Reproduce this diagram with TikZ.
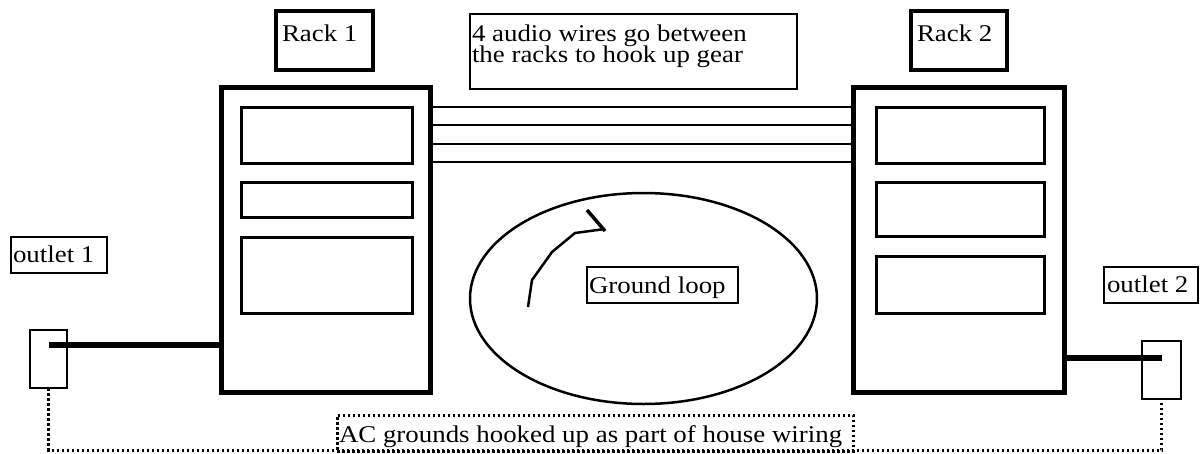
\documentclass[tikz,border=0pt]{standalone}
\usepackage{fontspec}
\setmainfont{Liberation Serif}[FakeStretch=1.12]
\begin{document}
\setlength{\lineskiplimit}{-30pt}%
\begin{tikzpicture}[x=1pt,y=-1pt,
  every node/.style={inner sep=0pt, outer sep=0pt},
  txtfont/.style={font=\fontsize{24pt}{21pt}\selectfont},
  txt/.style={anchor=base west, txtfont},
  rackbox/.style={draw, line width=5pt, anchor=north west},
  shelf/.style={draw, line width=3pt, anchor=north west, minimum width=171pt},
  rlbl/.style={draw, line width=4pt, anchor=north west, minimum height=59pt},
  lblbox/.style={draw, line width=2pt, anchor=north west},
  wire/.style={line width=2.7pt},
  power/.style={line width=5.5pt},
  gnd/.style={line width=3pt, dash pattern=on 2.5pt off 2.5pt},
]
\useasboundingbox (0,0) rectangle (1200,453);
% racks
\node[rackbox, minimum width=209pt, minimum height=305pt] (rack1) at (221.5,87.5) {};
\node[rackbox, minimum width=211pt, minimum height=305pt] (rack2) at (853.5,87.5) {};
% shelves rack 1
\node[shelf, minimum height=56pt] (s11) at (241.5,107.5) {};
\node[shelf, minimum height=35pt] (s12) at (241.5,182.5) {};
\node[shelf, minimum height=76pt] (s13) at (241.5,237.5) {};
% shelves rack 2
\node[shelf, minimum width=168pt, minimum height=56pt] (s21) at (876.5,107.5) {};
\node[shelf, minimum width=168pt, minimum height=54pt] (s22) at (876.5,182.5) {};
\node[shelf, minimum width=168pt, minimum height=57pt] (s23) at (876.5,256.5) {};
% rack labels
\node[rlbl, minimum width=97pt] (r1lbl) at (276,11) {};
\node[txt] (r1txt) at (282,41) {Rack 1};
\node[rlbl, minimum width=96pt] (r2lbl) at (911,11) {};
\node[txt] (r2txt) at (917,41) {Rack 2};
% wires note
\node[lblbox, minimum width=327pt, minimum height=75pt] (note) at (470,14) {};
\node[txtfont, anchor=north west, align=left] (notetxt) at (472,24.5)
  {4 audio wires go between\\the racks to hook up gear};
% audio wires
\draw[wire] (rack1.east |- 0,107) -- (rack2.west |- 0,107);
\draw[wire] (rack1.east |- 0,125) -- (rack2.west |- 0,125);
\draw[wire] (rack1.east |- 0,144) -- (rack2.west |- 0,144);
\draw[wire] (rack1.east |- 0,162) -- (rack2.west |- 0,162);
% outlets
\node[lblbox, minimum width=96pt, minimum height=36pt] (o1lbl) at (11,237) {};
\node[txt] (o1txt) at (13,262) {outlet 1};
\node[lblbox, line width=2.5pt, minimum width=37pt, minimum height=58pt] (o1) at (30,330) {};
\node[lblbox, minimum width=94pt, minimum height=36pt] (o2lbl) at (1104,267) {};
\node[txt] (o2txt) at (1107,292) {outlet 2};
\node[lblbox, line width=2.5pt, minimum width=39pt, minimum height=58pt] (o2) at (1142,341) {};
% power cords
\draw[power] (o1.center |- 0,345) -- (rack1.west |- 0,345);
\draw[power] (rack2.east |- 0,358) -- (o2.center |- 0,358);
% ground loop
\draw[line width=2.5pt] (643.5,298.5) ellipse [x radius=173.5pt, y radius=105.5pt];
\node[lblbox, minimum width=151pt, minimum height=36pt] (gl) at (587,267) {};
\node[txt] (gltxt) at (589,293) {Ground loop};
\draw[line width=2.5pt, line join=round] (528,307) -- (532,280) -- (552,252) -- (575,233) -- (605,229);
\draw[line width=3.5pt] (587,210) -- (605,231);
% house wiring ground
\node[lblbox, gnd, minimum width=516pt, minimum height=36pt] (ac) at (337,415) {};
\node[txt] (actxt) at (339,442) {AC grounds hooked up as part of house wiring};
\draw[gnd] (o1.south) -- (o1.south |- 0,450) -- (o2.south |- 0,450) -- (o2.south);
\end{tikzpicture}
\end{document}
